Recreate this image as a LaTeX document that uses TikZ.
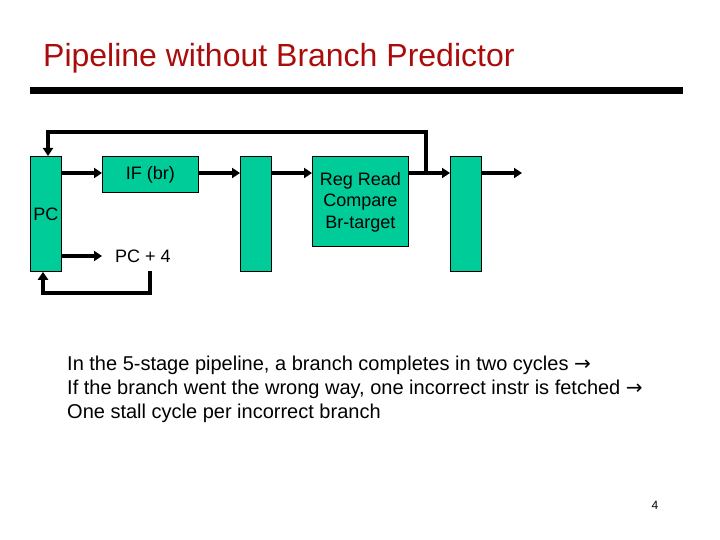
\documentclass[tikz,border=0pt]{standalone}
\usepackage{fontspec}
\setmainfont{Liberation Sans}
\newfontfamily\arrowfont{DejaVu Sans}
\usetikzlibrary{arrows.meta}
\definecolor{latchgreen}{RGB}{0,204,153}
\definecolor{titlered}{RGB}{170,12,12}
\newcommand{\implies}{{\arrowfont →}}

\begin{document}
\begin{tikzpicture}[x=1pt,y=-1pt,
    latch/.style={draw,fill=latchgreen,line width=0.8pt,minimum width=31pt,minimum height=115pt,
      inner sep=0pt,anchor=north west,font=\fontsize{18}{21.6}\selectfont},
    stage/.style={draw,fill=latchgreen,line width=0.8pt,minimum width=96pt,inner sep=0pt,
      anchor=north west,align=center,font=\fontsize{18}{21.6}\selectfont},
    wire/.style={line width=3.6pt},
    flow/.style={wire,-{Triangle[length=8pt,width=10pt]}}]
        \useasboundingbox (0,0) rectangle (720,540);
        \node[anchor=base west,inner sep=0pt,text=titlered,font=\fontsize{32}{38}\selectfont] (title) at (43,67) {Pipeline without Branch Predictor};
        \draw[line width=7pt] (30,90.5) -- (683,90.5);
        \foreach \n/\x/\t in {pc/30/PC,latchA/240/,latchB/450/}
        {
          \node[latch] (\n) at (\x,156) {\t};
        }
        \node[stage,minimum height=36pt] (fetch) at (102,156) {IF (br)};
        \node[stage,minimum height=90pt,text depth=2pt] (decode) at (312,156) {Reg Read\\Compare\\Br-target};
        \node[anchor=west,inner sep=0pt,font=\fontsize{18}{21.6}\selectfont] (next) at (115,256) {PC + 4};
        \coordinate (bus) at (0,173);
        \coordinate (tap) at (426,173);
        \coordinate (top) at (48,132);
        \coordinate (exit) at (522,173);
        \coordinate (drop) at (150,271);
        \coordinate (back) at (43,293);
        \draw[flow] (pc.east |- bus) -- (fetch.west |- bus);
        \draw[flow] (fetch.east |- bus) -- (latchA.west |- bus);
        \draw[flow] (latchA.east |- bus) -- (decode.west |- bus);
        \draw[flow] (decode.east |- bus) -- (latchB.west |- bus);
        \draw[flow] (latchB.east |- bus) -- (exit);
        \draw[flow] (tap) |- (top) -- (top |- pc.north);
        \draw[flow] (pc.east |- next) -- ([xshift=-13pt]next.west);
        \draw[flow] (drop) |- (back) -- (back |- pc.south);
        \node[anchor=north west,align=left,inner sep=0pt,font=\fontsize{20}{24}\selectfont] (note) at (67,356)
          {In the 5-stage pipeline, a branch completes in two cycles \implies\\
           If the branch went the wrong way, one incorrect instr is fetched \implies\\
           One stall cycle per incorrect branch};
        \node[anchor=base,inner sep=0pt,font=\fontsize{12}{14}\selectfont] (page) at (655,509) {4};
\end{tikzpicture}
\end{document}
